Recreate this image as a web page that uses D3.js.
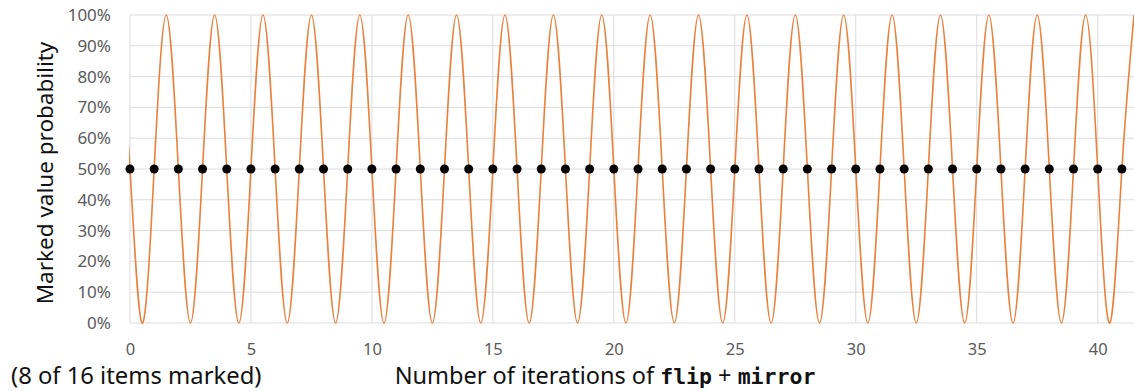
<!DOCTYPE html>
<html>
<head>
<meta charset="utf-8">
<script src="https://cdn.jsdelivr.net/npm/d3@7"></script>
<style>
  html, body { margin: 0; padding: 0; background: #fff; }
  svg { display: block; }
</style>
</head>
<body>
<svg id="chart" width="1134" height="391"></svg>
<script>
// ---- data ----
const iterations = [0,1,2,3,4,5,6,7,8,9,10,11,12,13,14,15,16,17,18,19,20,
                    21,22,23,24,25,26,27,28,29,30,31,32,33,34,35,36,37,38,39,40,41];
const dotProbability = [0.5,0.5,0.5,0.5,0.5,0.5,0.5,0.5,0.5,0.5,0.5,0.5,0.5,0.5,
                        0.5,0.5,0.5,0.5,0.5,0.5,0.5,0.5,0.5,0.5,0.5,0.5,0.5,0.5,
                        0.5,0.5,0.5,0.5,0.5,0.5,0.5,0.5,0.5,0.5,0.5,0.5,0.5,0.5];
// continuous curve: peaks (100%) and troughs (0%) between the integer points
const peakX   = [-0.5,1.5,3.5,5.5,7.5,9.5,11.5,13.5,15.5,17.5,19.5,21.5,23.5,25.5,
                 27.5,29.5,31.5,33.5,35.5,37.5,39.5,41.5];
const troughX = [0.5,2.5,4.5,6.5,8.5,10.5,12.5,14.5,16.5,18.5,20.5,22.5,24.5,26.5,
                 28.5,30.5,32.5,34.5,36.5,38.5,40.5];
const peakValue = 1.0;
const troughValue = 0.0;
const xTicks = [0,5,10,15,20,25,30,35,40];
const yTicks = [0,0.1,0.2,0.3,0.4,0.5,0.6,0.7,0.8,0.9,1.0];

(function () {
const svg = d3.select("#chart");
const mLeft = 129, mRight = 1134, mTop = 15, mBottom = 323;
const x = d3.scaleLinear().domain([-0.04, 41.5]).range([mLeft, mRight]);
const y = d3.scaleLinear().domain([0, 1]).range([mBottom, mTop]);

const gridColor = "#dcdcdc";
const labelColor = "#5a5a5a";
const font = "'Noto Sans', 'Open Sans', sans-serif";

// grid
svg.append("g").selectAll("line").data(yTicks).join("line")
  .attr("x1", x(0)).attr("x2", mRight)
  .attr("y1", d => y(d)).attr("y2", d => y(d))
  .attr("stroke", gridColor).attr("stroke-width", 1);
svg.append("g").selectAll("line").data(xTicks).join("line")
  .attr("x1", d => x(d)).attr("x2", d => x(d))
  .attr("y1", mTop).attr("y2", mBottom)
  .attr("stroke", gridColor).attr("stroke-width", 1);

// axes (labels only)
const yAxis = d3.axisLeft(y).tickValues(yTicks).tickFormat(d3.format(".0%")).tickSize(0).tickPadding(19);
const gy = svg.append("g").attr("transform", `translate(${x(0)},0)`).call(yAxis);
gy.select(".domain").remove();
gy.selectAll("text").attr("fill", labelColor).style("font-family", font).style("font-size", "17px");

const xAxis = d3.axisBottom(x).tickValues(xTicks).tickFormat(d3.format("d")).tickSize(0).tickPadding(20);
const gx = svg.append("g").attr("transform", `translate(0,${mBottom})`).call(xAxis);
gx.select(".domain").remove();
gx.selectAll("text").attr("fill", labelColor).style("font-family", font).style("font-size", "16.5px");

// curve
svg.append("defs").append("clipPath").attr("id", "clip")
  .append("rect").attr("x", x(-0.04)).attr("y", 0).attr("width", mRight - x(-0.04)).attr("height", 391);

const curvePts = []
  .concat(peakX.map(v => [v, peakValue]))
  .concat(troughX.map(v => [v, troughValue]))
  .concat(iterations.map((v, i) => [v, dotProbability[i]]))
  .sort((a, b) => a[0] - b[0]);

const line = d3.line().x(d => x(d[0])).y(d => y(d[1])).curve(d3.curveNatural);
svg.append("path").attr("d", line(curvePts))
  .attr("clip-path", "url(#clip)")
  .attr("fill", "none").attr("stroke", "#E8823F").attr("stroke-width", 1.6);

// dots
svg.append("g").selectAll("circle").data(iterations).join("circle")
  .attr("cx", d => x(d)).attr("cy", (d, i) => y(dotProbability[i]))
  .attr("r", 4.5).attr("fill", "#000");

// axis titles
svg.append("text")
  .attr("transform", `translate(53,173) rotate(-90)`)
  .attr("text-anchor", "middle")
  .style("font-family", font).style("font-size", "22.5px").attr("fill", "#111")
  .text("Marked value probability");

svg.append("text").attr("x", 11).attr("y", 384)
  .style("font-family", font).style("font-size", "23.8px").attr("fill", "#111")
  .text("(8 of 16 items marked)");

const t = svg.append("text").attr("x", 605).attr("y", 384).attr("text-anchor", "middle")
  .style("font-family", font).style("font-size", "23.5px").attr("fill", "#111");
t.append("tspan").text("Number of iterations of ");
t.append("tspan").style("font-family", "'DejaVu Sans Mono', monospace").style("font-weight", "bold").style("font-size", "21.5px").text("flip");
t.append("tspan").text(" + ");
t.append("tspan").style("font-family", "'DejaVu Sans Mono', monospace").style("font-weight", "bold").style("font-size", "21.5px").text("mirror");
})();
</script>
</body>
</html>
